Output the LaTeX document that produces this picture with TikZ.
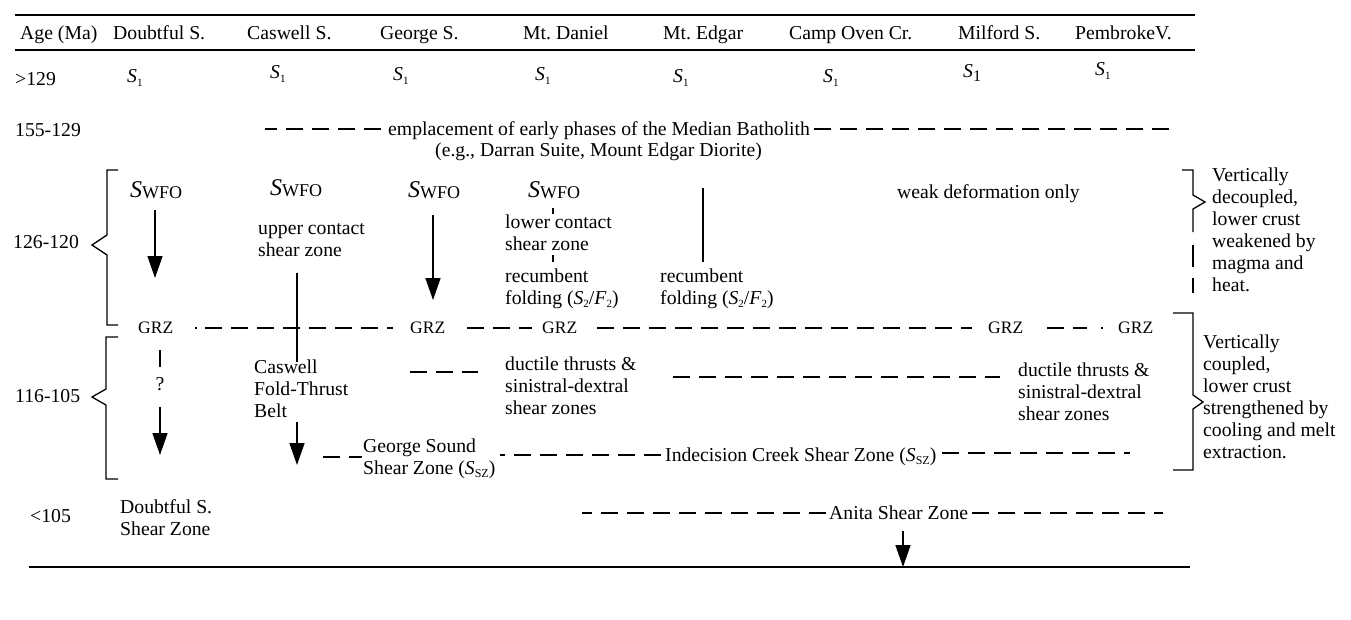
\documentclass[tikz,border=0pt]{standalone}
\usepackage{fontspec}
\setmainfont{Liberation Serif}
\usetikzlibrary{arrows.meta}
\frenchspacing
\newcommand{\Sone}[1][11]{{\itshape S}\raisebox{-4pt}{\fontsize{#1}{#1}\selectfont 1}}
\newcommand{\Swfo}{{\fontsize{24}{24}\selectfont\itshape S}\raisebox{-1.5pt}{\fontsize{18}{18}\selectfont WFO}}
\newcommand{\SFtwo}{(\textit{S}\raisebox{-3pt}{\fontsize{11}{11}\selectfont 2}/\textit{F}\raisebox{-3pt}{\fontsize{11}{11}\selectfont 2})}
\newcommand{\Ssz}{(\textit{S}\raisebox{-3pt}{\fontsize{12}{12}\selectfont SZ})}
\begin{document}
\begin{tikzpicture}[x=1pt,y=-1pt,
  txt/.style={anchor=base west, inner sep=0pt, font=\fontsize{19.7}{22}\selectfont},
  ml/.style={anchor=north west, inner sep=0pt, align=left, font=\fontsize{19.7}{22}\selectfont},
  grz/.style={anchor=base west, inner sep=0pt, font=\fontsize{17.5}{20}\selectfont},
  rulel/.style={line width=2pt},
  dl/.style={line width=1.8pt, dash pattern=on 17pt off 9pt},
  ln/.style={line width=1.5pt},
  tick/.style={line width=1.2pt},
  arr/.style={line width=1.5pt, -{Triangle[width=15pt,length=22pt]}},
  bracel/.style={line width=1.3pt, line join=miter}]
\useasboundingbox (0,0) rectangle (1351,619);
% rules
\path (15,15) coordinate (r1a) (1195,15) coordinate (r1b)
      (15,50) coordinate (r2a) (1195,50) coordinate (r2b)
      (29,567) coordinate (r3a) (1190,567) coordinate (r3b);
\draw[rulel] (r1a) -- (r1b);
\draw[rulel] (r2a) -- (r2b);
\draw[rulel] (r3a) -- (r3b);
% header
\node[txt] (hAge) at (20,39) {Age (Ma)};
\node[txt] (hDou) at (113,39) {Doubtful S.};
\node[txt] (hCas) at (247,39) {Caswell S.};
\node[txt] (hGeo) at (380,39) {George S.};
\node[txt] (hDan) at (523,39) {Mt. Daniel};
\node[txt] (hEdg) at (663,39) {Mt. Edgar};
\node[txt] (hCam) at (789,39) {Camp Oven Cr.};
\node[txt] (hMil) at (958,39) {Milford S.};
\node[txt] (hPem) at (1075,39) {PembrokeV.};
% age labels
\node[txt] (a1) at (15,85) {>129};
\node[txt] (a2) at (15,136) {155-129};
\node[txt] (a3) at (13,248) {126-120};
\node[txt] (a4) at (15,402) {116-105};
\node[txt] (a5) at (30,522) {<105};
% S1 row
\node[txt] (s1a) at (127,82) {\Sone};
\node[txt] (s1b) at (270,78) {\Sone};
\node[txt] (s1c) at (393,80) {\Sone};
\node[txt] (s1d) at (535,80) {\Sone};
\node[txt] (s1e) at (673,82) {\Sone};
\node[txt] (s1f) at (823,82) {\Sone};
\node[txt] (s1g) at (963,77) {\Sone[16]};
\node[txt] (s1h) at (1095,75) {\Sone};
% emplacement
\node[txt] (emp) at (388,135) {emplacement of early phases of the Median Batholith};
\node[txt] (eg) at (435,156) {(e.g., Darran Suite, Mount Edgar Diorite)};
\path (265,129) coordinate (e1) (381,129) coordinate (e2)
      (814,129) coordinate (e3) (1170,129) coordinate (e4);
\draw[dl] (e2) -- (e1);
\draw[dl] (e3) -- (e4);
% 126-120 row
\node[txt] (wfoA) at (130,197) {\Swfo};
\node[txt] (wfoB) at (270,195) {\Swfo};
\node[txt] (wfoC) at (408,197) {\Swfo};
\node[txt] (wfoD) at (528,197) {\Swfo};
\path (155,210) coordinate (dA1) (155,278) coordinate (dA2)
      (433,215) coordinate (gA1) (433,300) coordinate (gA2);
\draw[arr] (dA1) -- (dA2);
\draw[arr] (gA1) -- (gA2);
\node[ml] (upc) at (258,218.6) {\strut upper contact\\shear zone};
\path (297,273) coordinate (cL1) (297,362) coordinate (cL2)
      (297,422) coordinate (cA1) (297,465) coordinate (cA2);
\draw[ln] (cL1) -- (cL2);
\node[ml] (cft) at (254,357.6) {\strut Caswell\\Fold-Thrust\\Belt};
\draw[arr] (cA1) -- (cA2);
\path (553,208) coordinate (t1a) (553,214) coordinate (t1b)
      (553,255) coordinate (t2a) (553,262) coordinate (t2b);
\draw[tick] (t1a) -- (t1b);
\draw[tick] (t2a) -- (t2b);
\node[ml] (lwc) at (505,212.6) {\strut lower contact\\shear zone};
\node[ml] (rcD) at (505,266.6) {\strut recumbent\\folding \SFtwo};
\path (703,188) coordinate (eL1) (703,262) coordinate (eL2);
\draw[line width=2pt] (eL1) -- (eL2);
\node[ml] (rcE) at (660,266.6) {\strut recumbent\\folding \SFtwo};
\node[anchor=base east, inner sep=0pt, font=\fontsize{19.7}{22}\selectfont] (weak) at (1080,198) {weak deformation only};
% GRZ row
\node[grz] (g1) at (138,333) {GRZ};
\node[grz] (g2) at (410,333) {GRZ};
\node[grz] (g3) at (542,333) {GRZ};
\node[grz] (g4) at (988,333) {GRZ};
\node[grz] (g5) at (1118,333) {GRZ};
\path (195,328) coordinate (p1) (197,328) coordinate (p2)
      (205,328) coordinate (q1) (393,328) coordinate (q2)
      (467,328) coordinate (q3) (532,328) coordinate (q4)
      (597,328) coordinate (q5) (972,328) coordinate (q6)
      (1047,328) coordinate (q7) (1087,328) coordinate (q8)
      (1101,328) coordinate (p3) (1103,328) coordinate (p4);
\draw[line width=1.8pt] (p1) -- (p2);
\draw[dl] (q1) -- (q2);
\draw[dl] (q3) -- (q4);
\draw[dl] (q5) -- (q6);
\draw[dl] (q7) -- (q8);
\draw[line width=1.8pt] (p3) -- (p4);
% 116-105 row
\path (160,350) coordinate (qs1) (160,367) coordinate (qs2)
      (160,407) coordinate (qa1) (160,455) coordinate (qa2);
\draw[ln] (qs1) -- (qs2);
\node[anchor=base, inner sep=0pt, font=\fontsize{19.7}{22}\selectfont] (qm) at (160,390) {?};
\draw[arr] (qa1) -- (qa2);
\path (410,372) coordinate (m1) (478,372) coordinate (m2)
      (673,377) coordinate (m3) (1000,377) coordinate (m4);
\draw[dl] (m1) -- (m2);
\draw[dl] (m3) -- (m4);
\node[ml] (dtA) at (505,354.6) {\strut ductile thrusts \&\\sinistral-dextral\\shear zones};
\node[ml] (dtB) at (1018,360.6) {\strut ductile thrusts \&\\sinistral-dextral\\shear zones};
\node[ml] (gss) at (363,436.6) {\strut George Sound\\Shear Zone \Ssz};
\node[txt] (ics) at (665,461) {Indecision Creek Shear Zone \Ssz};
\path (323,457) coordinate (n1) (362,457) coordinate (n2)
      (500,455) coordinate (n3) (661,455) coordinate (n4)
      (942,453) coordinate (n5) (1130,453) coordinate (n6);
\draw[dl] (n1) -- (n2);
\draw[dl] (n4) -- (n3);
\draw[dl] (n5) -- (n6);
% <105 row
\node[ml] (dss) at (120,497.6) {\strut Doubtful S.\\Shear Zone};
\node[txt] (ani) at (829,519) {Anita Shear Zone};
\path (582,513) coordinate (k1) (826,513) coordinate (k2)
      (972,513) coordinate (k3) (1163,513) coordinate (k4)
      (903,531) coordinate (ka1) (903,567) coordinate (ka2);
\draw[dl] (k2) -- (k1);
\draw[dl] (k3) -- (k4);
\draw[arr] (ka1) -- (ka2);
% left braces
\draw[bracel] (118,170) -- (107,170) -- (107,235) -- (92,245) -- (107,255) -- (107,325) -- (118,325);
\draw[bracel] (118,337) -- (106,337) -- (106,389) -- (92,397) -- (106,405) -- (106,479) -- (118,479);
% right braces
\draw[bracel] (1182,170) -- (1193,170) -- (1193,195) -- (1205,202) -- (1193,209) -- (1193,232);
\draw[bracel] (1193,245) -- (1193,267);
\draw[bracel] (1193,278) -- (1193,293);
\draw[bracel] (1173,313) -- (1193,313) -- (1193,395) -- (1203,402) -- (1193,409) -- (1193,470) -- (1173,470);
\node[ml] (vdec) at (1212,165.6) {\strut Vertically\\decoupled,\\lower crust\\weakened by\\magma and\\heat.};
\node[ml] (vcou) at (1203,332.6) {\strut Vertically\\coupled,\\lower crust\\strengthened by\\cooling and melt\\extraction.};
\end{tikzpicture}
\end{document}
